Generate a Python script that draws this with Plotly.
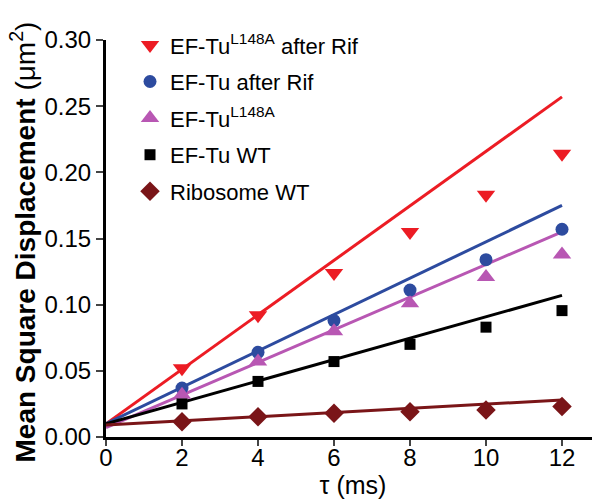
import plotly.graph_objects as go

# lag times (ms)
tau = [2, 4, 6, 8, 10, 12]
fit_tau = [0, 12]

# mean square displacement (um^2)
tu_l148a_rif = [0.052, 0.092, 0.124, 0.155, 0.183, 0.214]
tu_rif = [0.037, 0.064, 0.088, 0.111, 0.134, 0.157]
tu_l148a = [0.032, 0.057, 0.080, 0.101, 0.121, 0.138]
tu_wt = [0.025, 0.042, 0.057, 0.070, 0.083, 0.0955]
ribosome_wt = [0.0116, 0.0153, 0.018, 0.019, 0.0204, 0.023]

# linear fits (value at tau=0 and tau=12)
fit_l148a_rif = [0.010, 0.257]
fit_rif = [0.010, 0.175]
fit_l148a = [0.007, 0.155]
fit_wt = [0.010, 0.107]
fit_ribosome = [0.009, 0.028]

FONT = 'Arial, Liberation Sans, sans-serif'

series = [
    ('EF-Tu<sup>L148A</sup> after Rif', tu_l148a_rif, fit_l148a_rif, '#EC1C24', 'triangle-down', 16),
    ('EF-Tu after Rif', tu_rif, fit_rif, '#2D4B9F', 'circle', 13),
    ('EF-Tu<sup>L148A</sup>', tu_l148a, fit_l148a, '#B857B3', 'triangle-up', 16),
    ('EF-Tu WT', tu_wt, fit_wt, '#000000', 'square', 11),
    ('Ribosome WT', ribosome_wt, fit_ribosome, '#7A1518', 'diamond', 15),
]

fig = go.Figure()
for name, y, fit, color, symbol, size in series:
    fig.add_trace(go.Scatter(
        x=fit_tau, y=fit, mode='lines',
        line={'color': color, 'width': 3},
        showlegend=False, hoverinfo='skip'))
for name, y, fit, color, symbol, size in series:
    fig.add_trace(go.Scatter(
        x=tau, y=y, name=name, mode='markers', legendgroup=name,
        marker={'color': color, 'symbol': symbol, 'size': size,
                'line': {'width': 0}}))

# y title as an annotation, so it can sit right at the left edge
fig.add_annotation(
    text='<b>Mean Square Displacement</b> (μm<sup>2</sup>)',
    xref='paper', yref='paper', x=0, y=0.5, xshift=-83, yshift=-4,
    xanchor='center', yanchor='middle', textangle=-90,
    showarrow=False, font={'size': 28})

# page body keeps its 8px margin, so the figure is 8px smaller than the window
fig.update_layout(
    width=592, height=494,
    margin={'l': 98, 'r': 0, 't': 32, 'b': 65, 'autoexpand': False},
    plot_bgcolor='white',
    paper_bgcolor='white',
    font={'family': FONT, 'color': 'black'},
    xaxis={
        'range': [0, 13],
        'tickvals': [0, 2, 4, 6, 8, 10, 12],
        'ticks': 'outside',
        'ticklen': 6,
        'tickwidth': 2,
        'ticklabelstandoff': -9,
        'showline': True,
        'linewidth': 3,
        'linecolor': 'black',
        'showgrid': False,
        'zeroline': False,
        'tickfont': {'size': 24},
        'title': {'text': 'τ (ms)', 'font': {'size': 25}, 'standoff': 1},
    },
    yaxis={
        'range': [0, 0.30],
        'tickvals': [0, 0.05, 0.10, 0.15, 0.20, 0.25, 0.30],
        'tickformat': '.2f',
        'ticks': 'outside',
        'ticklen': 7,
        'tickwidth': 2,
        'showline': True,
        'linewidth': 3,
        'linecolor': 'black',
        'showgrid': False,
        'zeroline': False,
        'tickfont': {'size': 24},
    },
    legend={
        'x': 0.0486, 'y': 1.04, 'xanchor': 'left', 'yanchor': 'top',
        'font': {'size': 22},
        'bgcolor': 'rgba(0,0,0,0)',
        'itemwidth': 30,
        'traceorder': 'grouped',
        'tracegroupgap': 5,
    },
)

fig.write_html('out.html')
